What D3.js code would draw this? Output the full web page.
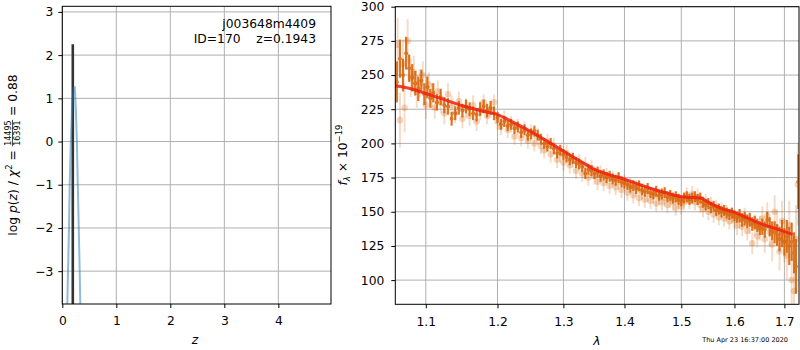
<!DOCTYPE html>
<html>
<head>
<meta charset="utf-8">
<script src="https://cdn.jsdelivr.net/npm/d3@7"></script>
<style>
body { margin: 0; background: #fff; }
text { font-family: "DejaVu Sans", sans-serif; fill: #000; }
</style>
</head>
<body>
<script>
// ---- left panel: log p(z)
var pzZ = [0.085, 0.106, 0.124, 0.137, 0.158, 0.185, 0.212, 0.232, 0.252, 0.270, 0.287, 0.305, 0.322, 0.340]
var pzLogp = [-4.2, -3.0, -2.0, -1.0, 0.0, 0.9, 1.24, 1.25, 0.7, 0.0, -1.0, -2.0, -3.0, -4.2]
var bestZ = 0.1943
var bestLogp = 2.25
var zTicks = [0, 1, 2, 3, 4]
var logpTicks = [-3, -2, -1, 0, 1, 2, 3]

// ---- right panel: spectrum (flux in 1e-19)
var lamDark = [1.062, 1.066, 1.070, 1.074, 1.078, 1.082, 1.086, 1.090, 1.094, 1.098, 1.102, 1.106, 1.110, 1.115,
  1.120, 1.125, 1.130, 1.135, 1.140, 1.145, 1.150, 1.155, 1.160, 1.165, 1.170, 1.175, 1.180, 1.185, 1.190, 1.195,
  1.200, 1.205, 1.210, 1.215, 1.220, 1.225, 1.230, 1.235, 1.240, 1.245, 1.250, 1.255, 1.260, 1.265, 1.270, 1.275,
  1.280, 1.285, 1.290, 1.295, 1.300, 1.305, 1.310, 1.315, 1.320, 1.325, 1.330, 1.335, 1.340, 1.345, 1.350, 1.355,
  1.360, 1.365, 1.370, 1.375, 1.380, 1.385, 1.390, 1.395, 1.400, 1.405, 1.410, 1.415, 1.420, 1.425, 1.430, 1.435,
  1.440, 1.445, 1.450, 1.455, 1.460, 1.465, 1.470, 1.475, 1.480, 1.485, 1.490, 1.495, 1.500, 1.505, 1.510, 1.515,
  1.520, 1.525, 1.530, 1.535, 1.540, 1.545, 1.550, 1.555, 1.560, 1.565, 1.570, 1.575, 1.580, 1.585, 1.590, 1.595,
  1.600, 1.605, 1.610, 1.615, 1.620, 1.625, 1.630, 1.635, 1.640, 1.645, 1.650, 1.655, 1.660, 1.665, 1.670, 1.675,
  1.680, 1.685, 1.690, 1.695, 1.700, 1.705, 1.710, 1.715, 1.720, 1.724, 1.729]
var fluxDark = [245, 262, 250, 266, 255, 248, 244, 240, 246, 236, 241, 233, 237, 230,
  234, 228, 227, 218, 222, 226, 224, 227, 225, 222, 221, 225, 227, 224, 226, 222,
  219, 214, 216, 213, 214, 211, 212, 208, 210, 206, 207, 209, 206, 203, 200, 198,
  200, 196, 193, 195, 192, 190, 188, 189, 186, 185, 183, 178, 181, 180, 178, 179,
  176, 177, 175, 176, 174, 173, 175, 172, 171, 170, 168, 169, 167, 169, 166, 165,
  167, 164, 163, 165, 162, 163, 164, 161, 162, 160, 161, 159, 158, 160, 161, 159,
  160, 161, 159, 160, 157, 155, 156, 153, 154, 151, 152, 150, 151, 149, 148, 149,
  147, 146, 147, 144, 145, 143, 144, 141, 142, 140, 138, 139, 137, 144, 139, 136,
  135, 133, 130, 134, 128, 132, 125, 128, 120, 110, 172]
var errDark = [15, 14, 12, 12, 10, 10, 9, 9, 8, 8, 8, 7, 7, 6,
  6, 6, 6, 5, 5, 5, 5, 5, 5, 5, 5, 5, 5, 5, 5, 5,
  4, 4, 4, 4, 4, 4, 4, 4, 4, 4, 4, 4, 4, 4, 4, 4,
  4, 4, 4, 4, 4, 4, 4, 4, 4, 4, 4, 4, 4, 4, 4, 4,
  4, 4, 4, 4, 4, 4, 4, 4, 4, 4, 4, 4, 4, 4, 4, 4,
  4, 4, 4, 4, 4, 4, 4, 4, 4, 4, 4, 4, 4, 4, 4, 4,
  4, 4, 4, 4, 4, 4, 4, 4, 4, 4, 4, 4, 4, 4, 4, 4,
  4, 4, 5, 5, 5, 5, 5, 5, 5, 5, 5, 6, 6, 6, 7, 7,
  8, 8, 9, 10, 10, 12, 14, 14, 15, 20, 20]

var lamLight = [1.063, 1.066, 1.070, 1.072, 1.076, 1.080, 1.084, 1.088, 1.092, 1.096, 1.100, 1.104, 1.108, 1.112,
  1.116, 1.120, 1.125, 1.130, 1.135, 1.140, 1.145, 1.150, 1.155, 1.160, 1.165, 1.170, 1.175, 1.180, 1.185, 1.190,
  1.195, 1.200, 1.205, 1.210, 1.215, 1.220, 1.225, 1.230, 1.235, 1.240, 1.245, 1.250, 1.255, 1.260, 1.265, 1.270,
  1.275, 1.280, 1.285, 1.290, 1.295, 1.300, 1.305, 1.310, 1.315, 1.320, 1.325, 1.330, 1.335, 1.340, 1.345, 1.350,
  1.355, 1.360, 1.365, 1.370, 1.375, 1.380, 1.385, 1.390, 1.395, 1.400, 1.405, 1.410, 1.415, 1.420, 1.425, 1.430,
  1.435, 1.440, 1.445, 1.450, 1.455, 1.460, 1.465, 1.470, 1.475, 1.480, 1.485, 1.490, 1.495, 1.500, 1.505, 1.510,
  1.515, 1.520, 1.525, 1.530, 1.535, 1.540, 1.545, 1.550, 1.555, 1.560, 1.565, 1.570, 1.575, 1.580, 1.585, 1.590,
  1.595, 1.600, 1.605, 1.610, 1.615, 1.620, 1.625, 1.630, 1.635, 1.640, 1.645, 1.650, 1.655, 1.660, 1.665, 1.670,
  1.675, 1.680, 1.685, 1.690, 1.695, 1.700, 1.705, 1.710, 1.715, 1.720, 1.724, 1.728]
var fluxLight = [272, 217, 258, 226, 275, 248, 252, 238, 244, 250, 228, 243, 235, 226,
  238, 230, 222, 236, 228, 222, 231, 218, 226, 220, 228, 216, 224, 230, 220, 225,
  230, 216, 212, 218, 210, 214, 205, 212, 204, 210, 202, 208, 200, 205, 198, 195,
  201, 192, 198, 188, 192, 186, 193, 184, 188, 180, 186, 178, 184, 175, 182, 176,
  172, 178, 171, 176, 169, 174, 168, 172, 166, 171, 164, 169, 162, 167, 160, 165,
  159, 163, 158, 162, 156, 161, 157, 160, 155, 159, 157, 153, 158, 154, 157, 162,
  158, 163, 157, 161, 155, 152, 157, 150, 155, 148, 153, 146, 151, 145, 149, 143,
  147, 144, 140, 145, 139, 146, 136, 142, 127, 140, 132, 138, 145, 130, 147, 135,
  126, 150, 138, 121, 143, 129, 118, 140, 100, 92, 130, 170]
var errLight = [20, 20, 18, 18, 16, 14, 12, 12, 10, 10, 10, 9, 9, 8,
  8, 8, 8, 8, 7, 7, 7, 7, 7, 7, 7, 7, 7, 6, 6, 6,
  6, 6, 6, 6, 6, 6, 6, 6, 6, 6, 6, 6, 6, 6, 6, 6,
  6, 6, 6, 6, 6, 6, 6, 6, 6, 6, 6, 6, 6, 6, 6, 6,
  6, 6, 6, 6, 6, 6, 6, 6, 6, 6, 6, 6, 6, 6, 6, 6,
  6, 6, 6, 6, 6, 6, 6, 6, 6, 6, 6, 6, 6, 6, 6, 6,
  6, 6, 6, 6, 6, 6, 6, 6, 6, 6, 6, 6, 6, 6, 6, 6,
  6, 7, 7, 7, 7, 7, 7, 8, 8, 8, 8, 9, 9, 10, 10, 11,
  12, 12, 13, 14, 15, 16, 18, 18, 20, 20, 25, 30]

var lamModel = [1.06, 1.08, 1.10, 1.125, 1.15, 1.175, 1.20, 1.225, 1.25, 1.275, 1.30, 1.325, 1.35, 1.375, 1.40,
  1.425, 1.45, 1.475, 1.50, 1.515, 1.535, 1.55, 1.575, 1.60, 1.625, 1.65, 1.675, 1.70, 1.717]
var fluxModel = [242.2, 240, 236.5, 232, 227.5, 224, 221, 215, 208.5, 201.5, 194.5, 187.5, 181, 177, 173.8,
  170, 166.5, 163.5, 161, 160.5, 160, 157, 152.5, 149.5, 145.5, 141.5, 138.5, 135.5, 133.5]
var lamTicks = [1.1, 1.2, 1.3, 1.4, 1.5, 1.6, 1.7]
var fluxTicks = [100, 125, 150, 175, 200, 225, 250, 275, 300]

var orange = "#d65f00"

var svg = d3.select("body").append("svg")
  .attr("width", 800)
  .attr("height", 350)

// scales
var xz = d3.scaleLinear().domain([0, 4.975]).range([62.3, 331])
var yp = d3.scaleLinear().domain([-3.76, 3.13]).range([304, 6.3])
var xl = d3.scaleLog().domain([1.06, 1.7304]).range([395.3, 799])
var yf = d3.scaleLinear().domain([82.3, 300]).range([304.3, 6.7])

var defs = svg.append("defs")
defs.append("clipPath").attr("id", "clipL").append("rect")
  .attr("x", 62.3).attr("y", 6.3).attr("width", 331 - 62.3).attr("height", 304 - 6.3)
defs.append("clipPath").attr("id", "clipR").append("rect")
  .attr("x", 395.3).attr("y", 6.7).attr("width", 799 - 395.3).attr("height", 304.3 - 6.7)

function grid(g, xs, ys, xt, yt) {
  var x0 = xs.range()[0], x1 = xs.range()[1], y0 = ys.range()[0], y1 = ys.range()[1]
  xt.forEach(function (t) {
    g.append("line").attr("x1", xs(t)).attr("x2", xs(t)).attr("y1", y0).attr("y2", y1)
      .attr("stroke", "#b0b0b0").attr("stroke-width", 1)
  })
  yt.forEach(function (t) {
    g.append("line").attr("x1", x0).attr("x2", x1).attr("y1", ys(t)).attr("y2", ys(t))
      .attr("stroke", "#b0b0b0").attr("stroke-width", 1)
  })
}

function axes(xs, ys, xt, yt, xfmt, yfmt, ypad) {
  var gx = svg.append("g").attr("transform", "translate(0," + ys.range()[0] + ")")
    .call(d3.axisBottom(xs).tickValues(xt).tickFormat(xfmt).tickSize(4).tickPadding(8.5).tickSizeOuter(0))
  var gy = svg.append("g").attr("transform", "translate(" + xs.range()[0] + ",0)")
    .call(d3.axisLeft(ys).tickValues(yt).tickFormat(yfmt).tickSize(4).tickPadding(ypad).tickSizeOuter(0))
  ;[gx, gy].forEach(function (g) {
    g.select(".domain").remove()
    g.selectAll("text").attr("font-size", 12.3).attr("font-family", "DejaVu Sans")
    g.selectAll("line").attr("stroke", "#000").attr("stroke-width", 1)
  })
  svg.append("rect")
    .attr("x", xs.range()[0]).attr("y", ys.range()[1])
    .attr("width", xs.range()[1] - xs.range()[0]).attr("height", ys.range()[0] - ys.range()[1])
    .attr("fill", "none").attr("stroke", "#000").attr("stroke-width", 1)
}

var minus = function (v) { return String(v).replace("-", "\u2212") }

// ---- left panel
var gl = svg.append("g")
grid(gl, xz, yp, zTicks, logpTicks)
var plotL = svg.append("g").attr("clip-path", "url(#clipL)")
plotL.append("line")
  .attr("x1", xz(bestZ)).attr("x2", xz(bestZ))
  .attr("y1", yp(-3.76)).attr("y2", yp(bestLogp))
  .attr("stroke", "#333").attr("stroke-width", 2.6)
plotL.append("path")
  .attr("d", d3.line().x(function (d, i) { return xz(pzZ[i]) }).y(function (d) { return yp(d) })(pzLogp))
  .attr("fill", "none").attr("stroke", "#1f77b4").attr("stroke-opacity", 0.5).attr("stroke-width", 2)
axes(xz, yp, zTicks, logpTicks, d3.format("d"), minus, 5)

var ann = svg.append("g").attr("font-size", 12.3).attr("text-anchor", "end")
ann.append("text").attr("x", 316).attr("y", 28).text("j003648m4409")
ann.append("text").attr("x", 316).attr("y", 42.5).style("white-space", "pre").text("ID=170    z=0.1943")

svg.append("text").attr("x", 195).attr("y", 344).attr("text-anchor", "middle")
  .attr("font-size", 12.3).attr("font-style", "italic").text("z")

// rotated y label with fraction
var lab = svg.append("g").attr("transform", "translate(16.5,155) rotate(-90)")
var t1 = lab.append("text").attr("font-size", 12.3).attr("y", 0).style("white-space", "pre")
t1.append("tspan").text("log ")
t1.append("tspan").attr("font-style", "italic").text("p")
t1.append("tspan").text("(")
t1.append("tspan").attr("font-style", "italic").text("z")
t1.append("tspan").text(") / ")
t1.append("tspan").attr("font-style", "italic").text("\u03c7")
t1.append("tspan").attr("font-size", 8.5).attr("dy", -5).text("2")
t1.append("tspan").attr("dy", 5).text(" = ")
var num = lab.append("text").attr("font-size", 8).attr("y", -5.5).attr("text-anchor", "middle").text("14495")
var den = lab.append("text").attr("font-size", 8).attr("y", 3).attr("text-anchor", "middle").text("16391")
var t3 = lab.append("text").attr("font-size", 12.3).attr("y", 0).style("white-space", "pre").text(" = 0.88")
var w1 = t1.node().getComputedTextLength()
var wf = Math.max(num.node().getComputedTextLength(), den.node().getComputedTextLength()) + 1
var w3 = t3.node().getComputedTextLength()
var start = -(w1 + wf + w3) / 2
t1.attr("x", start)
num.attr("x", start + w1 + wf / 2)
den.attr("x", start + w1 + wf / 2)
lab.append("line").attr("x1", start + w1).attr("x2", start + w1 + wf)
  .attr("y1", -4).attr("y2", -4).attr("stroke", "#000").attr("stroke-width", 0.7)
t3.attr("x", start + w1 + wf)

// ---- right panel
var gr = svg.append("g")
grid(gr, xl, yf, lamTicks, fluxTicks)
var plotR = svg.append("g").attr("clip-path", "url(#clipR)")

// faint points: every mark has its own alpha so overlaps build up
lamLight.forEach(function (l, i) {
  plotR.append("line")
    .attr("x1", xl(l)).attr("x2", xl(l))
    .attr("y1", yf(fluxLight[i] - errLight[i])).attr("y2", yf(fluxLight[i] + errLight[i]))
    .attr("stroke", orange).attr("stroke-width", 2).attr("stroke-opacity", 0.22)
  plotR.append("circle").attr("cx", xl(l)).attr("cy", yf(fluxLight[i])).attr("r", 3.3)
    .attr("fill", orange).attr("fill-opacity", 0.25)
})

var dark = plotR.append("g").attr("opacity", 0.85)
lamDark.forEach(function (l, i) {
  dark.append("line")
    .attr("x1", xl(l)).attr("x2", xl(l))
    .attr("y1", yf(fluxDark[i] - errDark[i])).attr("y2", yf(fluxDark[i] + errDark[i]))
    .attr("stroke", orange).attr("stroke-width", 2.2)
  dark.append("circle").attr("cx", xl(l)).attr("cy", yf(fluxDark[i])).attr("r", 2)
    .attr("fill", orange)
})

plotR.append("path")
  .attr("d", d3.line().curve(d3.curveMonotoneX)
    .x(function (d, i) { return xl(lamModel[i]) }).y(function (d) { return yf(d) })(fluxModel))
  .attr("fill", "none").attr("stroke", "#f02010").attr("stroke-opacity", 0.85).attr("stroke-width", 3)

axes(xl, yf, lamTicks, fluxTicks, d3.format(".1f"), d3.format("d"), 7)

svg.append("text").attr("x", 597).attr("y", 345).attr("text-anchor", "middle")
  .attr("font-size", 12.3).attr("font-style", "italic").text("\u03bb")

var lab2 = svg.append("g").attr("transform", "translate(347,155) rotate(-90)")
var r1 = lab2.append("text").attr("font-size", 12.3).attr("text-anchor", "middle").style("white-space", "pre")
r1.append("tspan").attr("font-style", "italic").text("f")
r1.append("tspan").attr("font-style", "italic").attr("font-size", 8.5).attr("dy", 3).text("\u03bb")
r1.append("tspan").attr("dy", -3).text(" \u00d7 10")
r1.append("tspan").attr("font-size", 8.5).attr("dy", -5).text("\u221219")

svg.append("text").attr("x", 788).attr("y", 342).attr("text-anchor", "end")
  .attr("font-size", 6.5).attr("fill", "#222").text("Thu Apr 23 16:37:00 2020")
</script>
</body>
</html>
